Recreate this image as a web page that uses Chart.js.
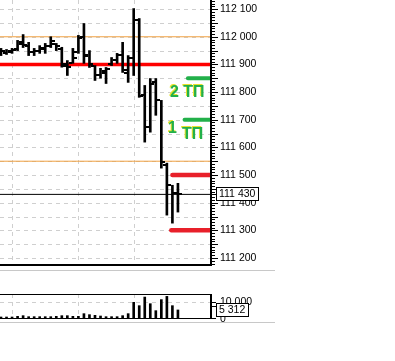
<!DOCTYPE html>
<html><head><meta charset="utf-8">
<script src="https://cdn.jsdelivr.net/npm/chart.js@4.4.0/dist/chart.umd.min.js"></script>
<style>
html,body{margin:0;padding:0;background:#fff;}
#wrap{position:relative;width:395px;height:361px;overflow:hidden;background:#fff;}
#pc{position:absolute;left:0;top:0;width:395px;height:266px;}
#vc{position:absolute;left:0;top:284px;width:395px;height:42px;}
.sep{position:absolute;left:0;width:275px;height:1px;background:#c8c8c8;}
</style></head><body>
<div id="wrap">
<div id="pc"><canvas id="price"></canvas></div>
<div class="sep" style="top:270px"></div>
<div id="vc"><canvas id="vol"></canvas></div>
<div class="sep" style="top:322px"></div>
</div>
<script>
// ---- data ----
const opens  = [111944,111940,111945,111955,111980,111965,111945,111948,111955,111965,111975,111955,111895,111905,111945,112000,111935,111895,111860,111870,111900,111915,111935,111870,111925,112060,111790,111673,111835,111770,111535,111463,111434];
const highs  = [111958,111954,111958,111987,112008,111980,111958,111968,111976,112000,111976,111962,111914,111958,112005,112048,111950,111896,111886,111889,111925,111940,111980,111932,112102,112066,111824,111849,111849,111770,111543,111463,111470];
const lows   = [111932,111936,111940,111950,111961,111932,111932,111940,111940,111961,111950,111890,111860,111904,111940,111904,111889,111842,111850,111831,111896,111904,111871,111835,111860,111781,111619,111655,111716,111525,111355,111326,111366];
const closes = [111950,111950,111952,111975,111970,111945,111950,111960,111965,111985,111965,111900,111890,111925,111995,111930,111900,111860,111875,111885,111915,111935,111880,111925,112060,111785,111673,111828,111770,111546,111463,111434,111430];
const volumes = [1180,1180,1180,1570,1960,1370,1370,1370,1370,1370,1570,1960,1960,1570,1570,3140,2550,2160,1760,1370,1370,1370,1960,3140,9800,7840,12900,9000,4900,11400,13300,7840,5312];
const priceTicks = [111200,111250,111300,111350,111400,111450,111500,111550,111600,111650,111700,111750,111800,111850,111900,111950,112000,112050,112100];
const volTicks = [0, 10000];
const sessionBreaks = [2, 14, 24];
const redLevel = 111900;
const orangeLevels = [112000, 111550];
const lastPrice = 111430;
const lastVolume = 5312;
const greenTargets = [111850, 111700];
const redTargets = [111500, 111300];
const targetTexts = ['2 ТП', '1', 'ТП'];

// ---- helpers ----
const FONT = '"Liberation Sans", Arial, sans-serif';
const fmt = v => String(v).replace(/\B(?=(\d{3})+(?!\d))/g, ' ');
const xMin = -0.18, xMax = 37.8;
const PMIN = 111171, PMAX = 112133;
const idx = opens.map((_, i) => i);

function levelDS(v, x0, color, width, cap){
  return {type:'line', data:[{x:x0,y:v},{x:xMax,y:v}], borderColor:color, borderWidth:width,
    pointRadius:0, borderCapStyle:cap||'butt', order:5, clip:4};
}

function hline(ctx,x1,y1,x2,y2){ctx.beginPath();ctx.moveTo(x1,y1);ctx.lineTo(x2,y2);ctx.stroke();}

const pricePlugin = {
  id:'pricePlugin',
  beforeDatasetsDraw(chart){
    const {ctx, chartArea:a, scales:{x,y}} = chart;
    ctx.save(); ctx.strokeStyle='#cfcfcf'; ctx.lineWidth=1; ctx.setLineDash([4,4]);
    priceTicks.forEach(v=>{const py=Math.round(y.getPixelForValue(v))+0.5; hline(ctx,a.left,py,a.right,py);});
    sessionBreaks.forEach(i=>{const px=Math.round(x.getPixelForValue(i))+0.5; hline(ctx,px,a.top,px,a.bottom);});
    ctx.restore();
  },
  afterDatasetsDraw(chart){
    const {ctx, scales:{x,y}} = chart;
    ctx.save(); ctx.fillStyle='#000';
    idx.forEach(i=>{
      const cx=Math.round(x.getPixelForValue(i));
      const yo=Math.round(y.getPixelForValue(opens[i]));
      const yc=Math.round(y.getPixelForValue(closes[i]));
      ctx.fillRect(cx-4, yo-1, 3, 2);
      ctx.fillRect(cx+1, yc-1, 3, 2);
    });
    ctx.restore();
  },
  afterDraw(chart){
    const {ctx, chartArea:a, scales:{y}} = chart;
    ctx.save();
    ctx.fillStyle='#000';
    // axis line & bottom border
    ctx.fillRect(a.right, a.top, 2, a.bottom-a.top);
    ctx.fillRect(a.left, a.bottom-2, a.right-a.left+2, 2);
    // minor/major ticks
    for(let v=Math.ceil(PMIN/10)*10; v<=PMAX; v+=10){
      const py=Math.round(y.getPixelForValue(v));
      const len = (v%50===0)?6:3;
      ctx.fillRect(a.right+2, py, len, 1);
    }
    // last price box
    const ly=Math.round(y.getPixelForValue(lastPrice));
    ctx.fillRect(a.right+2, ly, 5, 1);
    ctx.fillStyle='#fff'; ctx.fillRect(216,ly-7,43,14);
    ctx.strokeStyle='#000'; ctx.lineWidth=1; ctx.strokeRect(216.5,ly-6.5,42,13);
    ctx.fillStyle='#000'; ctx.font='10.5px '+FONT; ctx.textBaseline='middle'; ctx.textAlign='left';
    ctx.fillText(fmt(lastPrice), 219, ly+0.5);
    // target texts
    ctx.font='bold 16px '+FONT; ctx.textBaseline='alphabetic';
    const pos=[[170,97],[168,133],[182,139]];
    targetTexts.forEach((t,k)=>{
      ctx.fillStyle='#e8e22a'; ctx.fillText(t,pos[k][0]-1,pos[k][1]-1);
      ctx.fillStyle='#22b04a'; ctx.fillText(t,pos[k][0],pos[k][1]);
    });
    ctx.restore();
  }
};

new Chart(document.getElementById('price'), {
  type:'bar',
  data:{datasets:[
    {type:'bar', data: idx.map(i=>({x:i, y:[lows[i], highs[i]]})), backgroundColor:'#000', barThickness:2, order:0},
    levelDS(redLevel, xMin, '#ff0000', 3.5),
    levelDS(orangeLevels[0], xMin, '#f0a040', 1),
    levelDS(orangeLevels[1], xMin, '#f0a040', 1),
    levelDS(lastPrice, xMin, '#000000', 1),
    levelDS(greenTargets[0], 33.8, '#22b04a', 4, 'round'),
    levelDS(greenTargets[1], 33.2, '#22b04a', 4, 'round'),
    levelDS(redTargets[0], 31.0, '#e8202a', 4.5, 'round'),
    levelDS(redTargets[1], 30.8, '#e8202a', 4.5, 'round')
  ]},
  options:{
    responsive:true, maintainAspectRatio:false, animation:false, events:[],
    layout:{padding:0},
    plugins:{legend:{display:false}, tooltip:{enabled:false}},
    scales:{
      x:{type:'linear', min:xMin, max:xMax, display:false, offset:false},
      y:{position:'right', min:PMIN, max:PMAX, grid:{display:false, drawTicks:false}, border:{display:false},
        afterBuildTicks:s=>{s.ticks=priceTicks.map(v=>({value:v}));},
        afterFit:s=>{s.width=185; s.paddingTop=0; s.paddingBottom=0;},
        ticks:{padding:10, color:'#000', font:{family:FONT, size:10.5}, callback:v=>fmt(v)}
      }
    }
  },
  plugins:[pricePlugin]
});

const VMAX = 14700;
const volPlugin = {
  id:'volPlugin',
  beforeDatasetsDraw(chart){
    const {ctx, chartArea:a, scales:{x,y}} = chart;
    ctx.save(); ctx.strokeStyle='#cfcfcf'; ctx.lineWidth=1; ctx.setLineDash([4,4]);
    volTicks.filter(v=>v>0).forEach(v=>{const py=Math.round(y.getPixelForValue(v))+0.5; hline(ctx,a.left,py,a.right,py);});
    sessionBreaks.forEach(i=>{const px=Math.round(x.getPixelForValue(i))+0.5; hline(ctx,px,a.top,px,a.bottom);});
    ctx.restore();
  },
  afterDraw(chart){
    const {ctx, chartArea:a, scales:{y}} = chart;
    ctx.save(); ctx.fillStyle='#000';
    ctx.fillRect(a.left, Math.round(a.top), a.right-a.left+2, 1);
    ctx.fillRect(a.left, Math.round(a.bottom)-1, a.right-a.left+2, 1);
    ctx.fillRect(a.right, a.top, 2, a.bottom-a.top);
    volTicks.forEach(v=>{const py=Math.round(y.getPixelForValue(v)); ctx.fillRect(a.right+2, Math.min(py, Math.round(a.bottom)-1), 4, 1);});
    const ly=Math.round(y.getPixelForValue(lastVolume));
    ctx.fillRect(a.right+2, ly-4, 5, 1);
    ctx.fillStyle='#fff'; ctx.fillRect(216,ly-7,33,14);
    ctx.strokeStyle='#000'; ctx.lineWidth=1; ctx.strokeRect(216.5,ly-6.5,32,13);
    ctx.fillStyle='#000'; ctx.font='10.5px '+FONT; ctx.textBaseline='middle'; ctx.textAlign='left';
    ctx.fillText(fmt(lastVolume), 219, ly+0.5);
    ctx.restore();
  }
};

new Chart(document.getElementById('vol'), {
  type:'bar',
  data:{datasets:[
    {data: idx.map(i=>({x:i, y:volumes[i]})), backgroundColor:'#000', barThickness:2}
  ]},
  options:{
    responsive:true, maintainAspectRatio:false, animation:false, events:[],
    layout:{padding:{top:10, bottom:7, left:0, right:0}},
    plugins:{legend:{display:false}, tooltip:{enabled:false}},
    scales:{
      x:{type:'linear', min:xMin, max:xMax, display:false, offset:false},
      y:{position:'right', min:0, max:VMAX, grid:{display:false, drawTicks:false}, border:{display:false},
        afterBuildTicks:s=>{s.ticks=volTicks.map(v=>({value:v}));},
        afterFit:s=>{s.width=185; s.paddingTop=0; s.paddingBottom=0;},
        ticks:{padding:10, color:'#000', font:{family:FONT, size:10.5}, callback:v=>fmt(v)}
      }
    }
  },
  plugins:[volPlugin]
});
</script>
</body></html>
